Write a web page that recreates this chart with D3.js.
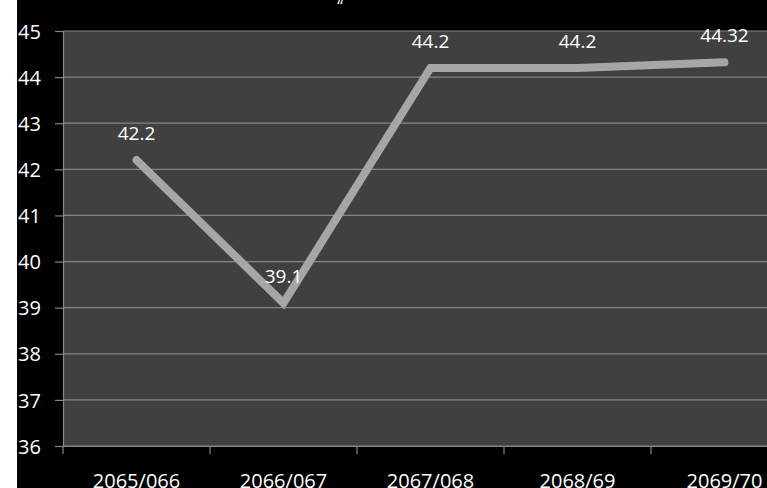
<!DOCTYPE html>
<html>
<head>
<meta charset="utf-8">
<script src="https://cdn.jsdelivr.net/npm/d3@7"></script>
<style>
  html, body { margin: 0; padding: 0; background: #ffffff; }
  svg { display: block; }
</style>
</head>
<body>
<svg id="chart" width="767" height="488"></svg>
<script>
// Fiscal years and the values plotted for each
const categories = ["2065/066", "2066/067", "2067/068", "2068/69", "2069/70"];
const values = [42.2, 39.1, 44.2, 44.2, 44.32];
const valueLabels = ["42.2", "39.1", "44.2", "44.2", "44.32"];
const yTicks = [36, 37, 38, 39, 40, 41, 42, 43, 44, 45];

const W = 767, H = 488;
const svg = d3.select("#chart");
const font = "'Open Sans', 'Noto Sans', sans-serif";

// black canvas with a thin white strip on the left
svg.append("rect").attr("x", 0).attr("y", 0).attr("width", W).attr("height", H).attr("fill", "#ffffff");
svg.append("rect").attr("x", 17).attr("y", 0).attr("width", W - 17).attr("height", H).attr("fill", "#000000");

const plot = { left: 63, right: 798, top: 31, bottom: 446 };

const x = d3.scaleBand().domain(categories).range([plot.left, plot.right]).padding(0);
const y = d3.scaleLinear().domain([36, 45]).range([plot.bottom, plot.top]);

// plot area
svg.append("rect")
  .attr("x", plot.left).attr("y", plot.top)
  .attr("width", plot.right - plot.left).attr("height", plot.bottom - plot.top)
  .attr("fill", "#404040");

// horizontal gridlines
svg.append("g").selectAll("line").data(yTicks).join("line")
  .attr("x1", plot.left).attr("x2", plot.right)
  .attr("y1", d => y(d)).attr("y2", d => y(d))
  .attr("stroke", "#868686").attr("stroke-width", 1.2);

// y axis
const yAxis = svg.append("g")
  .attr("transform", `translate(${plot.left},0)`)
  .call(d3.axisLeft(y).tickValues(yTicks).tickSize(8).tickFormat(d3.format("d")));
yAxis.select(".domain").attr("stroke", "#868686").attr("stroke-width", 1.2);
yAxis.selectAll(".tick line").attr("stroke", "#868686").attr("stroke-width", 1.2);
yAxis.selectAll(".tick text")
  .attr("fill", "#ffffff").attr("font-family", font).attr("font-size", 20)
  .attr("text-anchor", "start").attr("x", -45).attr("dy", "0.36em");

// x axis: ticks between categories
const xAxis = svg.append("g")
  .attr("transform", `translate(0,${plot.bottom})`)
  .call(d3.axisBottom(x).tickSize(0).tickPadding(0));
xAxis.select(".domain").attr("stroke", "#868686").attr("stroke-width", 1.2);
xAxis.selectAll(".tick text")
  .attr("fill", "#ffffff").attr("font-family", font).attr("font-size", 20)
  .attr("dy", null).attr("y", 42);
const bounds = categories.map(c => x(c)).concat([plot.right]);
xAxis.selectAll(".sep").data(bounds).join("line").attr("class", "sep")
  .attr("x1", d => d).attr("x2", d => d).attr("y1", 0).attr("y2", 8)
  .attr("stroke", "#868686").attr("stroke-width", 1.2);

// series line
const pts = categories.map((c, i) => [x(c) + x.bandwidth() / 2, y(values[i])]);
svg.append("path")
  .attr("d", d3.line()(pts))
  .attr("fill", "none")
  .attr("stroke", "#a6a6a6")
  .attr("stroke-width", 8)
  .attr("stroke-linejoin", "miter")
  .attr("stroke-linecap", "round");

// value labels
svg.append("g").selectAll("text").data(pts).join("text")
  .attr("x", d => d[0]).attr("y", d => d[1] - 20)
  .attr("text-anchor", "middle")
  .attr("fill", "#ffffff").attr("font-family", font).attr("font-size", 19)
  .text((d, i) => valueLabels[i]);

// remnant of the title above the plot
svg.append("text").attr("x", 340).attr("y", 12).attr("text-anchor", "middle")
  .attr("fill", "#ffffff").attr("font-family", font).attr("font-size", 16).text("“");
</script>
</body>
</html>
